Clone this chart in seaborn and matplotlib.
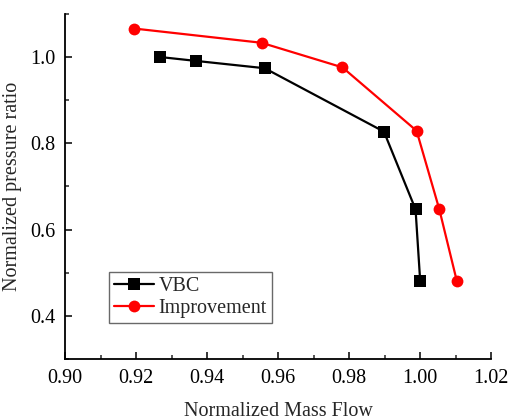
import matplotlib
matplotlib.use("Agg")
import matplotlib.pyplot as plt
from matplotlib.ticker import MultipleLocator
import seaborn as sns
import pandas as pd

vbc_flow = [0.9267, 0.9368, 0.9562, 0.9898, 0.9987, 1.0000]
vbc_pr = [1.000, 0.991, 0.974, 0.827, 0.647, 0.482]
imp_flow = [0.9194, 0.9553, 0.9781, 0.9990, 1.0054, 1.0103]
imp_pr = [1.066, 1.033, 0.976, 0.829, 0.647, 0.482]
series = ["VBC", "Improvement"]

df = pd.DataFrame({
    "flow": vbc_flow + imp_flow,
    "pr": vbc_pr + imp_pr,
    "series": [series[0]] * len(vbc_flow) + [series[1]] * len(imp_flow),
})

sns.set_style("ticks")
plt.rcParams["font.family"] = ["Liberation Serif", "DejaVu Serif"]

fig = plt.figure(figsize=(5.1, 4.2), dpi=100)
ax = fig.add_axes([0.128, 0.145, 0.835, 0.822])

sns.lineplot(data=df, x="flow", y="pr", hue="series", style="series",
             palette={"VBC": "black", "Improvement": "red"},
             markers={"VBC": "s", "Improvement": "o"}, dashes=False,
             sort=False, estimator=None, linewidth=1.6, markersize=8.5,
             markeredgewidth=0, ax=ax)

ax.set_xlim(0.90, 1.02)
ax.set_ylim(0.3, 1.1)
ax.xaxis.set_major_locator(MultipleLocator(0.02))
ax.xaxis.set_minor_locator(MultipleLocator(0.01))
ax.yaxis.set_major_locator(MultipleLocator(0.2))
ax.yaxis.set_minor_locator(MultipleLocator(0.1))
ax.xaxis.set_major_formatter(matplotlib.ticker.FormatStrFormatter("%.2f"))
ax.yaxis.set_major_formatter(matplotlib.ticker.FormatStrFormatter("%.1f"))
ax.tick_params(which="major", direction="in", length=5, width=1.1, labelsize=14.5, colors="black")
ax.tick_params(which="minor", direction="in", length=3, width=1.1)
ax.tick_params(axis="x", pad=7)
ax.tick_params(axis="y", pad=7)
for s in ["top", "right"]:
    ax.spines[s].set_visible(False)
for s in ["left", "bottom"]:
    ax.spines[s].set_linewidth(1.3)
    ax.spines[s].set_color("black")

ax.set_xlabel("Normalized Mass Flow", fontsize=14.5, labelpad=10)
ax.set_ylabel("Normalized pressure ratio", fontsize=14.5, labelpad=6)

leg = ax.legend(loc="lower left", bbox_to_anchor=(0.103, 0.104), fontsize=14.5,
                frameon=True, fancybox=False, edgecolor="#444444",
                handlelength=2.0, borderpad=0.25, labelspacing=0.15,
                handletextpad=0.2, borderaxespad=0)
leg.get_frame().set_linewidth(1.0)

fig.savefig("out.png", dpi=100)
